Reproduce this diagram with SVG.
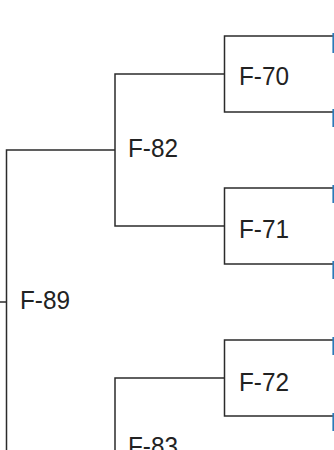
<svg xmlns="http://www.w3.org/2000/svg" width="334" height="450" viewBox="0 0 334 450">
<style>
.c{fill:none;stroke:#2b2b2b;stroke-width:1.5}
.b{fill:none;stroke:#2a7ab8;stroke-width:1.6}
.t{font-family:"Liberation Sans",Arial,sans-serif;font-size:26px;fill:#222}
</style>
<rect width="334" height="450" fill="#fff"/>
<g id="connectors">
<path class="c" d="M0,302H6.5M115,150H6.5V454H115"/>
<path class="c" d="M224.5,74H115V226H224.5"/>
<path class="c" d="M224.5,378H115V530"/>
<path class="c" d="M334,36H224.5V112H334"/>
<path class="c" d="M334,188H224.5V264H334"/>
<path class="c" d="M334,340H224.5V416H334"/>
<path class="b" d="M333.2,33V53M333.2,109V127M333.2,185V203M333.2,261V279M333.2,337V355M333.2,413V431"/>
</g>
<g id="F-89"><text class="t" x="20" y="309" textLength="50" lengthAdjust="spacingAndGlyphs">F-89</text></g>
<g id="F-82"><text class="t" x="128" y="157" textLength="50" lengthAdjust="spacingAndGlyphs">F-82</text></g>
<g id="F-83"><text class="t" x="128" y="455" textLength="50" lengthAdjust="spacingAndGlyphs">F-83</text></g>
<g id="F-70"><text class="t" x="239" y="85" textLength="50" lengthAdjust="spacingAndGlyphs">F-70</text></g>
<g id="F-71"><text class="t" x="239" y="238" textLength="50" lengthAdjust="spacingAndGlyphs">F-71</text></g>
<g id="F-72"><text class="t" x="239" y="391" textLength="50" lengthAdjust="spacingAndGlyphs">F-72</text></g>
</svg>
